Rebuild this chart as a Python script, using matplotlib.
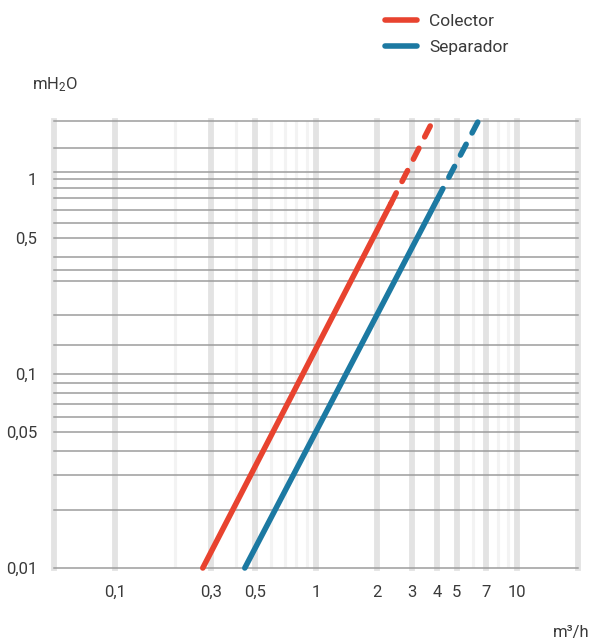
import matplotlib.pyplot as plt
from matplotlib.ticker import FixedLocator, NullLocator

plt.rcParams['font.family'] = ['Roboto', 'DejaVu Sans']
plt.rcParams['mathtext.fontset'] = 'custom'
plt.rcParams['mathtext.rm'] = 'Roboto'
plt.rcParams['mathtext.it'] = 'Roboto'

# caudal (m3/h) y perdida de carga (mH2O)
colector_q_solid = [0.274, 2.35]
colector_dp_solid = [0.01, 0.75]
colector_q_dash = [2.35, 3.8]
colector_dp_dash = [0.75, 2.0]

separador_q_solid = [0.443, 4.0]
separador_dp_solid = [0.01, 0.79]
separador_q_dash = [4.0, 6.4]
separador_dp_dash = [0.79, 2.0]

x_ticks = [0.1, 0.3, 0.5, 1, 2, 3, 4, 5, 7, 10]
x_labels = ['0,1', '0,3', '0,5', '1', '2', '3', '4', '5', '7', '10']
y_ticks = [0.01, 0.05, 0.1, 0.5, 1]
y_labels = ['0,01', '0,05', '0,1', '0,5', '1']

# rejilla
v_major = [0.05, 0.1, 0.3, 0.5, 1, 2, 3, 4, 5, 7, 10, 20]
v_minor = [0.2, 0.4, 0.6, 0.7, 0.8, 0.9, 6, 8, 9]
h_lines = [2, 1.45, 1.09, 1, 0.9, 0.8, 0.7, 0.6, 0.5, 0.4, 0.34, 0.3, 0.2,
           0.14, 0.1, 0.09, 0.08, 0.07, 0.06, 0.05, 0.04, 0.03, 0.02, 0.01]

red = '#e8432f'
blue = '#1c79a2'
txt = '#3a3a3a'

fig = plt.figure(figsize=(5.94, 6.42), dpi=100)
ax = fig.add_axes([54/594, 74/642, 524/594, 447/642])
ax.set_xscale('log')
ax.set_yscale('log')
ax.set_xlim(0.05, 20)
ax.set_ylim(0.01, 2)

for v in v_minor:
    ax.axvline(v, color='#f3f3f3', lw=2.2, zorder=1)
for v in v_major:
    ax.axvline(v, color='#e3e3e3', lw=4.2, zorder=1, clip_on=False)
for h in h_lines:
    ax.axhline(h, color='#9c9c9c', lw=1.1, zorder=2, clip_on=False)

lw = 4
l1, = ax.plot(colector_q_solid, colector_dp_solid, color=red, lw=lw,
              solid_capstyle='round', zorder=3, clip_on=False)
ax.plot(colector_q_dash, colector_dp_dash, color=red, lw=lw, dashes=(2.2, 2.3),
        dash_capstyle='round', zorder=3, clip_on=False)
l2, = ax.plot(separador_q_solid, separador_dp_solid, color=blue, lw=lw,
              solid_capstyle='round', zorder=3, clip_on=False)
ax.plot(separador_q_dash, separador_dp_dash, color=blue, lw=lw, dashes=(2.2, 2.3),
        dash_capstyle='round', zorder=3, clip_on=False)

for s in ax.spines.values():
    s.set_visible(False)
ax.xaxis.set_major_locator(FixedLocator(x_ticks))
ax.xaxis.set_minor_locator(NullLocator())
ax.yaxis.set_major_locator(FixedLocator(y_ticks))
ax.yaxis.set_minor_locator(NullLocator())
ax.set_xticklabels(x_labels)
ax.set_yticklabels(y_labels)
ax.tick_params(length=0, labelsize=12, colors=txt)
ax.tick_params(axis='x', pad=12)
ax.tick_params(axis='y', pad=12)

fig.text(32/594, 1-85/642, r'mH$_\mathregular{2}$O', fontsize=12, color=txt,
         va='center', ha='left')
fig.text(590/594, 1-633/642, 'm³/h', fontsize=12, color=txt,
         va='center', ha='right')

ax.legend([l1, l2], ['Colector', 'Separador'], loc='upper left',
          bbox_to_anchor=(385/594, 1-14/642), bbox_transform=fig.transFigure,
          frameon=False, borderpad=0, borderaxespad=0, fontsize=12.5,
          handlelength=1.85, handletextpad=0.7, labelspacing=0.62,
          labelcolor=txt)

plt.savefig('out.png', dpi=100)
